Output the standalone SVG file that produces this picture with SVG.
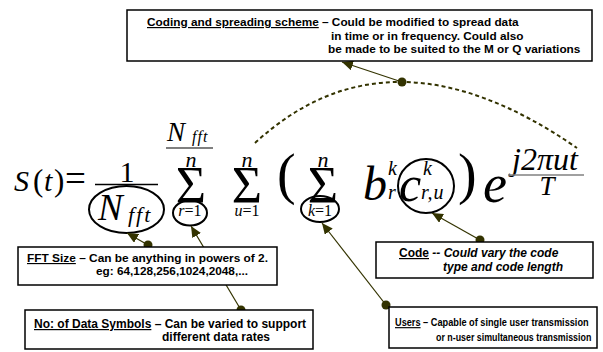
<svg xmlns="http://www.w3.org/2000/svg" width="603" height="352" viewBox="0 0 603 352">
<style>
.box{fill:#fff;stroke:#000;stroke-width:1.5}
.lbl{font-family:"Liberation Sans",Arial,sans-serif;font-weight:bold;fill:#000}
.u{text-decoration:underline}
.m{font-family:"Liberation Serif","Times New Roman",serif;fill:#000}
.i{font-style:italic}
.ring{fill:none;stroke:#000;stroke-width:2}
.conn{stroke:#333300;stroke-width:1.2;fill:none}
.dot{fill:#333300}
</style>
<defs>
<marker id="ah" markerUnits="userSpaceOnUse" markerWidth="12" markerHeight="10" refX="11" refY="5" orient="auto">
<path d="M0,0 L11,5 L0,10 z" fill="#333300"/>
</marker>
</defs>
<rect width="603" height="352" fill="#fff"/>

<g id="formula">
<text class="m i" x="14" y="191" font-size="30">S</text>
<text class="m" x="33" y="191" font-size="31">(</text>
<text class="m i" x="44" y="191" font-size="30">t</text>
<text class="m" x="54" y="191" font-size="31">)</text>
<text class="m" x="65" y="191" font-size="37">=</text>
<text class="m" x="127" y="182" font-size="30" text-anchor="middle">1</text>
<line x1="95" y1="184.5" x2="158" y2="184.5" stroke="#000" stroke-width="1.5"/>
<text class="m i" x="98" y="220" font-size="37">N</text>
<text class="m i" x="128" y="222" font-size="22" letter-spacing="2">fft</text>
<text class="m i" x="167" y="141" font-size="27">N</text>
<text class="m i" x="192" y="142" font-size="16" letter-spacing="1">fft</text>
<line x1="166" y1="148" x2="213" y2="148" stroke="#000" stroke-width="1.2"/>
<text class="m i" x="191" y="167" font-size="22" text-anchor="middle">n</text>
<text class="m" x="191" y="203" font-size="52" text-anchor="middle">Σ</text>
<text class="m" x="190" y="216" font-size="16" text-anchor="middle"><tspan class="i">r</tspan>=1</text>
<text class="m i" x="247" y="167" font-size="22" text-anchor="middle">n</text>
<text class="m" x="247" y="203" font-size="52" text-anchor="middle">Σ</text>
<text class="m" x="247" y="216" font-size="16" text-anchor="middle"><tspan class="i">u</tspan>=1</text>
<text class="m" x="277" y="193" font-size="56">(</text>
<text class="m i" x="323" y="167" font-size="22" text-anchor="middle">n</text>
<text class="m" x="323" y="203" font-size="52" text-anchor="middle">Σ</text>
<text class="m" x="320" y="216" font-size="16" text-anchor="middle"><tspan class="i">k</tspan>=1</text>
<text class="m i" x="363" y="200" font-size="48">b</text>
<text class="m i" x="388" y="175" font-size="20">k</text>
<text class="m i" x="388" y="199" font-size="20">r</text>
<text class="m i" x="399" y="201" font-size="50">c</text>
<text class="m i" x="423" y="175" font-size="20">k</text>
<text class="m i" x="421" y="199" font-size="20" letter-spacing="1">r,u</text>
<text class="m" x="458" y="193" font-size="56">)</text>
<text class="m i" x="483" y="202" font-size="54">e</text>
<text class="m i" x="512" y="170" font-size="32">j2πut</text>
<line x1="508" y1="175" x2="584" y2="175" stroke="#808080" stroke-width="1.5"/>
<text class="m i" x="547" y="195" font-size="27" text-anchor="middle">T</text>
<ellipse class="ring" cx="126.5" cy="209.5" rx="37.5" ry="23.5"/>
<ellipse class="ring" cx="190" cy="213" rx="17" ry="12.5"/>
<ellipse class="ring" cx="320" cy="209" rx="19" ry="13"/>
<ellipse class="ring" cx="426" cy="186" rx="28" ry="27"/>
</g>

<g id="connectors">
<path d="M255,143 Q390,18.5 577,148" fill="none" stroke="#333300" stroke-width="2" stroke-dasharray="4,3"/>
<line class="conn" x1="402" y1="82" x2="342" y2="62" marker-end="url(#ah)"/>
<circle class="dot" cx="402" cy="82" r="4.5"/>
<line class="conn" x1="148" y1="245" x2="127" y2="233" marker-end="url(#ah)"/>
<circle class="dot" cx="148" cy="245" r="4.5"/>
<line class="conn" x1="241" y1="310" x2="191" y2="226" marker-end="url(#ah)"/>
<circle class="dot" cx="241" cy="310" r="4.5"/>
<line class="conn" x1="386" y1="305" x2="322" y2="223" marker-end="url(#ah)"/>
<circle class="dot" cx="386" cy="305" r="4.5"/>
<line class="conn" x1="480" y1="240" x2="432" y2="213" marker-end="url(#ah)"/>
<circle class="dot" cx="480" cy="240" r="4.5"/>
</g>

<g id="coding">
<rect class="box" x="127" y="10" width="465" height="51"/>
<text class="lbl" x="147" y="26" font-size="11.8"><tspan class="u">Coding and spreading scheme</tspan> – Could be modified to spread data</text>
<text class="lbl" x="331" y="39.5" font-size="11.8">in time or in frequency. Could also</text>
<text class="lbl" x="328" y="53" font-size="11.8">be made to be suited to the M or Q variations</text>
</g>

<g id="fft">
<rect class="box" x="18" y="247" width="259" height="38"/>
<text class="lbl" x="27" y="262" font-size="11.5" textLength="241" lengthAdjust="spacingAndGlyphs"><tspan class="u">FFT Size</tspan> – Can be anything in powers of 2.</text>
<text class="lbl" x="96" y="275" font-size="11.5" textLength="152" lengthAdjust="spacingAndGlyphs">eg: 64,128,256,1024,2048,...</text>
</g>

<g id="symbols">
<rect class="box" x="25" y="310" width="288" height="39"/>
<text class="lbl" x="34" y="328" font-size="12"><tspan class="u">No: of Data Symbols</tspan> – Can be varied to support</text>
<text class="lbl" x="162" y="341" font-size="12">different data rates</text>
</g>

<g id="code">
<rect class="box" x="376" y="242" width="217" height="36"/>
<text class="lbl" x="399" y="257" font-size="12"><tspan class="u">Code</tspan><tspan font-style="italic"> -- Could vary the code</tspan></text>
<text class="lbl" x="443" y="271" font-size="12" font-style="italic">type and code length</text>
</g>

<g id="users">
<rect class="box" x="389" y="307" width="208" height="41" stroke="#333300"/>
<text class="lbl" font-size="11.5" transform="translate(395,326) scale(0.8,1)"><tspan class="u">Users</tspan> – Capable of single user transmission</text>
<text class="lbl" font-size="11.5" transform="translate(436,341) scale(0.77,1)">or n-user simultaneous transmission</text>
</g>
</svg>
